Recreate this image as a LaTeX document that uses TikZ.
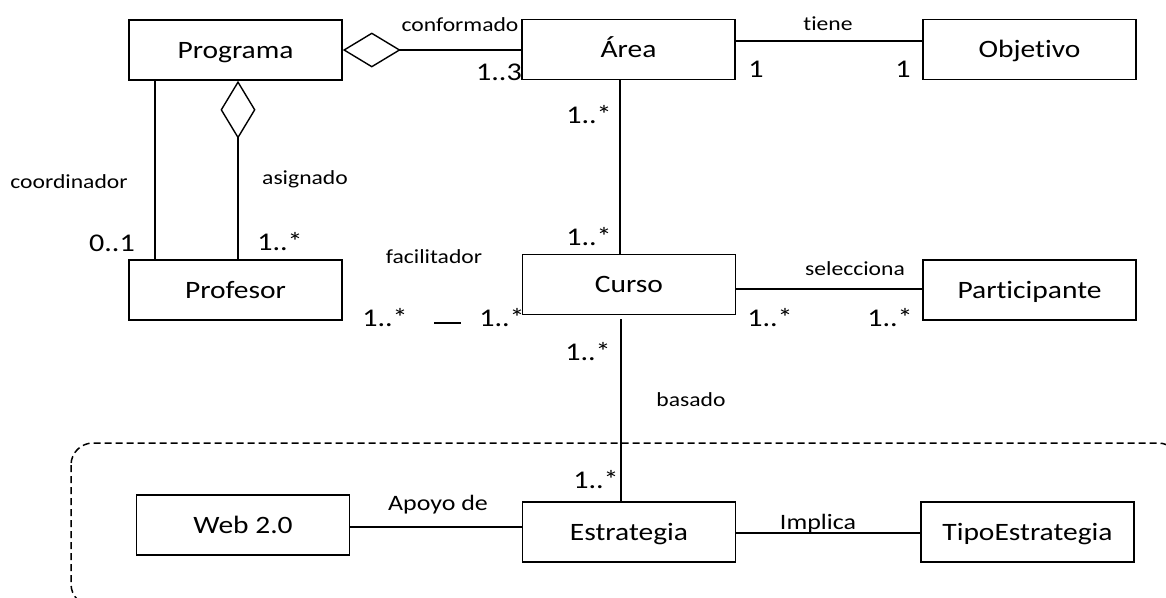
\documentclass[tikz,border=0pt]{standalone}
\usepackage{fontspec}
\setmainfont{Carlito}[FakeStretch=1.18, Ligatures=NoCommon]
\usetikzlibrary{arrows.meta,calc}
\begin{document}
\begin{tikzpicture}[x=1pt,y=-1pt,
  cls/.style={draw, line width=1.6pt, minimum width=213pt, minimum height=60pt, inner sep=0pt, text height=16pt, text depth=0pt, font=\fontsize{25}{29}\selectfont},
  lnk/.style={line width=1.4pt},
  agg/.style={lnk, -{Diamond[open, length=58pt, width=35pt, line width=1.4pt]}},
  lab/.style={inner sep=0pt, font=\fontsize{20}{24}\selectfont},
  labb/.style={inner sep=0pt, font=\fontsize{22}{26}\selectfont},
  mult/.style={inner sep=0pt, font=\fontsize{25.5}{29}\selectfont},
  pkg/.style={line width=1.5pt, dash pattern=on 7pt off 4pt, rounded corners=22pt}]
\useasboundingbox (0,0) rectangle (1166,597);
\clip (0,0) rectangle (1166,597);

% package frame
\draw[pkg] (71,443) rectangle (1180,606);

% classes
\node[cls] (prog) at (235.5,50) {Programa};
\node[cls] (area) at (628.5,49.5) {Área};
\node[cls] (obj) at (1029.5,49.5) {Objetivo};
\node[cls] (prof) at (235.5,290) {Profesor};
\node[cls] (curso) at (629,284.5) {Curso};
\node[cls] (part) at (1029.5,290) {Participante};
\node[cls] (web) at (243,525) {Web 2.0};
\node[cls] (estr) at (629,532) {Estrategia};
\node[cls] (tipo) at (1027.5,532) {TipoEstrategia};

% helper coordinates
\coordinate (ytiene) at (0,41);
\coordinate (xac) at (620,0);
\coordinate (ysel) at (289,289);
\coordinate (yapo) at (0,527);
\coordinate (yimp) at (0,533);
\coordinate (xcoord) at (155,0);
\coordinate (cstart) at (621,319);
\coordinate (dashA) at (434,323);
\coordinate (dashB) at (461,323);

% connectors
\draw[agg] (area.west |- prog.east) -- (prog.east);
\draw[agg] ([xshift=2.5pt]prof.north) -- ([xshift=2.5pt]prog.south);
\draw[lnk] (prog.south -| xcoord) -- (prof.north -| xcoord);
\draw[lnk] (area.east |- ytiene) -- (obj.west |- ytiene);
\draw[lnk] (area.south -| xac) -- (curso.north -| xac);
\draw[lnk] (curso.east |- ysel) -- (part.west |- ysel);
\draw[lnk] (cstart) -- (estr.north -| cstart);
\draw[lnk] (web.east |- yapo) -- (estr.west |- yapo);
\draw[lnk] (estr.east |- yimp) -- (tipo.west |- yimp);
\draw[line width=1.6pt] (dashA) -- (dashB);

% labels
\node[lab] (lconf) at (460,25) {conformado};
\node[mult] (m13) at (499,72) {1..3};
\node[lab] (ltiene) at (828,24) {tiene};
\node[mult] (m1a) at (756,69) {1};
\node[mult] (m1b) at (903,69) {1};
\node[mult] (mac1) at (589,115) {1..*};
\node[mult] (mac2) at (589,237) {1..*};
\node[lab] (lsel) at (855,269) {selecciona};
\node[mult] (mcp1) at (770,318) {1..*};
\node[mult] (mcp2) at (890,318) {1..*};
\node[lab] (lfac) at (434,257) {facilitador};
\node[mult] (mpf1) at (385,318) {1..*};
\node[mult] (mpf2) at (502,318) {1..*};
\node[mult] (mce1) at (588,352) {1..*};
\node[mult] (mce2) at (596,480) {1..*};
\node[lab] (lbas) at (691,400) {basado};
\node[lab] (lasig) at (305,179) {asignado};
\node[lab] (lcoord) at (69,182) {coordinador};
\node[mult] (m01) at (112,243) {0..1};
\node[mult] (mpp) at (280,242) {1..*};
\node[labb] (lapo) at (438,505) {Apoyo de};
\node[labb] (limp) at (818,524) {Implica};
\end{tikzpicture}
\end{document}
